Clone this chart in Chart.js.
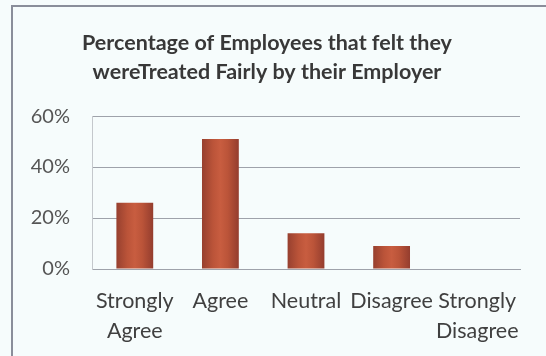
<!DOCTYPE html>
<html>
<head>
<meta charset="utf-8">
<script src="https://cdn.jsdelivr.net/npm/chart.js@4"></script>
<style>
  html, body { margin: 0; padding: 0; background: #f6fcfc; }
  #wrap { position: relative; width: 546px; height: 356px; overflow: hidden; }
  canvas { position: absolute; left: 0; top: 0; }
  #frame {
    position: absolute; left: 11px; top: 5px; width: 600px; height: 400px;
    border-left: 2px solid #8a8e9a; border-top: 2px solid #8a8e9a;
    z-index: 2; pointer-events: none;
  }
</style>
</head>
<body>
<div id="wrap">
  <canvas id="grafica" width="546" height="356"></canvas>
  <div id="frame"></div>
</div>
<script>
const categorias = [["Strongly", "Agree"], "Agree", "Neutral", "Disagree", ["Strongly", "Disagree"]];
const porcentajes = [26, 51, 14, 9, 0];
const ticksY = [0, 20, 40, 60];

const fuente = "Lato, 'Open Sans', sans-serif";
const anchoBarra = 0.43;

// degradado horizontal para cada barra, calculado desde la escala x
function colorBarra(ctx) {
  const chart = ctx.chart;
  const escala = chart.scales.x;
  if (!escala || !chart.chartArea) return "#c05a3e";
  const cx = escala.getPixelForValue(ctx.dataIndex);
  const w = (escala.width / categorias.length) * anchoBarra;
  const g = chart.ctx.createLinearGradient(cx - w / 2, 0, cx + w / 2, 0);
  g.addColorStop(0, "#97402f");
  g.addColorStop(0.3, "#bb5439");
  g.addColorStop(0.5, "#c85d40");
  g.addColorStop(0.7, "#bb5439");
  g.addColorStop(1, "#943d2e");
  return g;
}

const fondo = {
  id: "fondo",
  beforeDraw(chart) {
    const c = chart.ctx;
    c.save();
    c.fillStyle = "#f6fcfc";
    c.fillRect(0, 0, chart.width, chart.height);
    c.restore();
  }
};

new Chart(document.getElementById("grafica"), {
  type: "bar",
  data: {
    labels: categorias,
    datasets: [{
      data: porcentajes,
      backgroundColor: colorBarra,
      borderWidth: 0,
      barPercentage: anchoBarra,
      categoryPercentage: 1
    }]
  },
  plugins: [fondo],
  options: {
    responsive: false,
    animation: false,
    layout: { padding: { left: 14, right: 26, top: 0, bottom: 0 } },
    plugins: {
      legend: { display: false },
      tooltip: { enabled: false },
      title: {
        display: true,
        text: ["Percentage of Employees that felt they", "wereTreated Fairly by their Employer"],
        color: "#383838",
        font: { family: fuente, size: 21.5, weight: "bold", lineHeight: 1.35 },
        padding: { top: 29, bottom: 29 }
      }
    },
    scales: {
      x: {
        grid: { display: false, drawTicks: false },
        border: { color: "#9ea2aa", width: 1 },
        ticks: {
          color: "#404040",
          font: { family: fuente, size: 21.5, lineHeight: 1.4 },
          padding: 17,
          maxRotation: 0,
          autoSkip: false
        },
        afterFit(s) { s.height = 356 - 269; }
      },
      y: {
        min: 0,
        max: 60,
        afterBuildTicks(s) { s.ticks = ticksY.map(v => ({ value: v })); },
        grid: { color: "#9ea2aa", lineWidth: 1, drawTicks: false },
        border: { color: "#c4c8cc", width: 1 },
        ticks: {
          color: "#555555",
          font: { family: fuente, size: 20 },
          padding: 22,
          callback: v => v + "%"
        },
        afterFit(s) { s.width = 78; }
      }
    }
  }
});
</script>
</body>
</html>
